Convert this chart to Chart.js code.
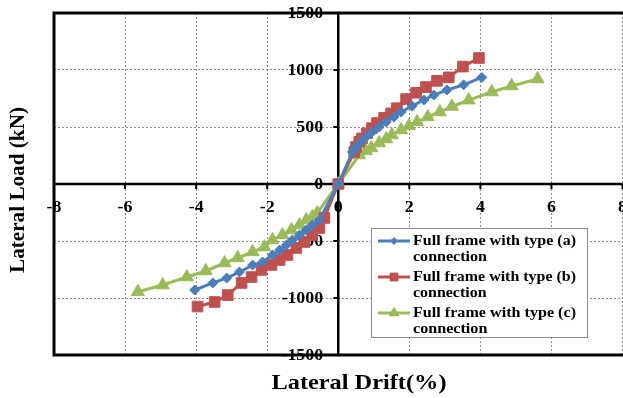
<!DOCTYPE html>
<html>
<head>
<meta charset="utf-8">
<script src="https://cdn.jsdelivr.net/npm/chart.js@4/dist/chart.umd.min.js"></script>
<style>
  html, body { margin: 0; padding: 0; background: #fff; overflow: hidden; }
  #wrap { width: 623px; height: 398px; overflow: hidden; }
</style>
</head>
<body>
<div id="wrap"><canvas id="hysChart" width="631" height="398"></canvas></div>
<script>
// drift (%) and lateral load (kN)
const driftA = [-4.04, -3.53, -3.14, -2.78, -2.41, -2.13, -1.85, -1.65, -1.46, -1.29, -1.09, -0.9, -0.73, -0.53, 0,
    0.4, 0.5, 0.64, 0.78, 0.95, 1.15, 1.35, 1.57, 1.77, 2.08, 2.41, 2.69, 3.06, 3.53, 4.04];
const loadA = [-930, -868, -825, -772, -711, -684, -623, -579, -535, -491, -447, -404, -360, -316, 0,
    280, 325, 370, 412, 456, 500, 545, 588, 632, 684, 737, 780, 825, 870, 935];

const driftB = [-3.96, -3.48, -3.11, -2.72, -2.44, -2.16, -1.88, -1.65, -1.43, -1.18, -0.95, -0.73, -0.53, -0.39, 0,
    0.45, 0.5, 0.59, 0.67, 0.81, 0.95, 1.09, 1.29, 1.49, 1.65, 1.91, 2.19, 2.47, 2.78, 3.11, 3.51, 3.96];
const loadB = [-1075, -1035, -974, -868, -816, -754, -710, -667, -623, -561, -509, -447, -386, -298, 0,
    280, 325, 370, 400, 445, 490, 535, 580, 620, 665, 745, 800, 850, 905, 935, 1030, 1105];

const driftC = [-5.64, -4.94, -4.26, -3.73, -3.2, -2.83, -2.41, -2.08, -1.85, -1.57, -1.32, -1.09, -0.9, -0.73, -0.59, 0,
    0.59, 0.78, 0.93, 1.15, 1.35, 1.51, 1.77, 1.99, 2.22, 2.52, 2.86, 3.2, 3.67, 4.32, 4.88, 5.61];
const loadC = [-945, -886, -816, -763, -693, -649, -596, -553, -491, -447, -404, -360, -316, -289, -254, 0,
    254, 290, 316, 360, 395, 430, 474, 509, 544, 588, 632, 680, 735, 807, 860, 921];

const xTicks = [-8, -6, -4, -2, 0, 2, 4, 6, 8];
const yTicks = [-1500, -1000, -500, 0, 500, 1000, 1500];

const seriesNames = [
    ['Full frame with type (a)', 'connection'],
    ['Full frame with type (b)', 'connection'],
    ['Full frame with type (c)', 'connection']
];

const serif = '"Liberation Serif", "Times New Roman", serif';

function toPoints(xs, ys) {
    return xs.map((x, i) => ({ x: x, y: ys[i] }));
}

// text squeezed/stretched to a given width (the original is a stretched bitmap)
function fillWide(ctx, text, x, y, width) {
    const w = ctx.measureText(text).width;
    ctx.save();
    ctx.translate(x, y);
    ctx.scale(width / w, 1);
    ctx.textAlign = 'center';
    ctx.fillText(text, 0, 0);
    ctx.restore();
}

// axes through the origin, tick labels and titles (under the data)
const axesPlugin = {
    id: 'axesPlugin',
    beforeDatasetsDraw(chart) {
        const ctx = chart.ctx;
        const a = chart.chartArea;
        const sx = chart.scales.x, sy = chart.scales.y;
        const x0 = sx.getPixelForValue(0), y0 = sy.getPixelForValue(0);
        ctx.save();
        ctx.strokeStyle = '#000';

        // outer frame (left, top, bottom)
        ctx.lineWidth = 3;
        ctx.beginPath();
        ctx.moveTo(a.right + 2, a.top);
        ctx.lineTo(a.left, a.top);
        ctx.lineTo(a.left, a.bottom);
        ctx.lineTo(a.right + 2, a.bottom);
        ctx.stroke();

        // zero axes
        ctx.lineWidth = 2.5;
        ctx.beginPath();
        ctx.moveTo(a.left, y0); ctx.lineTo(a.right, y0);
        ctx.moveTo(x0, a.top); ctx.lineTo(x0, a.bottom);
        ctx.stroke();

        // tick marks
        ctx.lineWidth = 2;
        ctx.beginPath();
        xTicks.forEach(v => {
            const px = sx.getPixelForValue(v);
            ctx.moveTo(px, y0); ctx.lineTo(px, y0 + 5);
        });
        yTicks.forEach(v => {
            const py = sy.getPixelForValue(v);
            ctx.moveTo(x0 - 5, py); ctx.lineTo(x0, py);
        });
        ctx.stroke();

        // tick labels
        ctx.fillStyle = '#000';
        ctx.font = 'bold 16px ' + serif;
        ctx.textBaseline = 'middle';
        yTicks.forEach(v => {
            const t = String(v);
            const w = ctx.measureText(t).width * 1.12;
            fillWide(ctx, t, x0 - 15 - w / 2, sy.getPixelForValue(v) + 1, w);
        });
        xTicks.forEach(v => {
            const t = String(v);
            fillWide(ctx, t, sx.getPixelForValue(v), y0 + 24, ctx.measureText(t).width * 1.12);
        });

        // axis titles
        ctx.font = 'bold 21px ' + serif;
        fillWide(ctx, 'Lateral Drift(%)', 359, 384, 175);
        ctx.translate(19, 190);
        ctx.rotate(-Math.PI / 2);
        fillWide(ctx, 'Lateral Load (kN)', 0, 0, 166);
        ctx.restore();
    }
};

// boxed legend with two-line entries
const legendPlugin = {
    id: 'legendPlugin',
    afterDraw(chart) {
        const ctx = chart.ctx;
        const box = { x: 371, y: 228, w: 216, h: 109 };
        const legendMarks = [3.5, 5.5, 5.5];
        ctx.save();
        ctx.fillStyle = '#fff';
        ctx.fillRect(box.x, box.y, box.w, box.h);
        ctx.strokeStyle = '#8c8c8c';
        ctx.lineWidth = 1;
        ctx.strokeRect(box.x + 0.5, box.y + 0.5, box.w, box.h);

        chart.data.datasets.forEach((ds, i) => {
            const cy = box.y + 13 + i * 36;
            ctx.strokeStyle = ds.borderColor;
            ctx.lineWidth = 3;
            ctx.beginPath();
            ctx.moveTo(box.x + 7, cy);
            ctx.lineTo(box.x + 39, cy);
            ctx.stroke();
            ctx.lineWidth = 1;
            Chart.helpers.drawPoint(ctx, {
                pointStyle: ds.pointStyle,
                radius: legendMarks[i],
                borderWidth: 1
            }, box.x + 23, cy);
            ctx.fillStyle = ds.borderColor;
            ctx.fill();

            ctx.fillStyle = '#000';
            ctx.font = 'bold 14px ' + serif;
            ctx.textBaseline = 'middle';
            const t1 = seriesNames[i][0], t2 = seriesNames[i][1];
            const k = 163 / ctx.measureText(t1).width;
            const w2 = ctx.measureText(t2).width * k;
            fillWide(ctx, t1, box.x + 42 + 163 / 2, cy, 163);
            fillWide(ctx, t2, box.x + 42 + w2 / 2, cy + 16, w2);
        });
        ctx.restore();
    }
};

function makeSet(i, xs, ys, color, style, r) {
    return {
        label: seriesNames[i].join(' '),
        data: toPoints(xs, ys),
        showLine: true,
        borderColor: color,
        backgroundColor: color,
        borderWidth: 3,
        pointStyle: style,
        pointRadius: r,
        pointBorderWidth: 1,
        tension: 0
    };
}

const ctx = document.getElementById('hysChart').getContext('2d');
new Chart(ctx, {
    type: 'scatter',
    data: {
        datasets: [
            makeSet(0, driftA, loadA, '#4a7ebb', 'rectRot', 5),
            makeSet(1, driftB, loadB, '#c0504d', 'rect', 7.5),
            makeSet(2, driftC, loadC, '#9bbb59', 'triangle', 7.5)
        ]
    },
    options: {
        responsive: false,
        animation: false,
        layout: {
            padding: { left: 54, top: 13, right: 0, bottom: 43 }
        },
        plugins: {
            legend: { display: false },
            tooltip: { enabled: false }
        },
        scales: {
            x: {
                type: 'linear',
                min: -8,
                max: 8,
                ticks: { stepSize: 2, display: false },
                border: { display: false, dash: [2, 2] },
                grid: {
                    color: '#8a8a8a',
                    lineWidth: 1,
                    drawTicks: false
                }
            },
            y: {
                min: -1500,
                max: 1500,
                ticks: { stepSize: 500, display: false },
                border: { display: false, dash: [2, 2] },
                grid: {
                    color: '#8a8a8a',
                    lineWidth: 1,
                    drawTicks: false
                }
            }
        }
    },
    plugins: [axesPlugin, legendPlugin]
});
</script>
</body>
</html>
